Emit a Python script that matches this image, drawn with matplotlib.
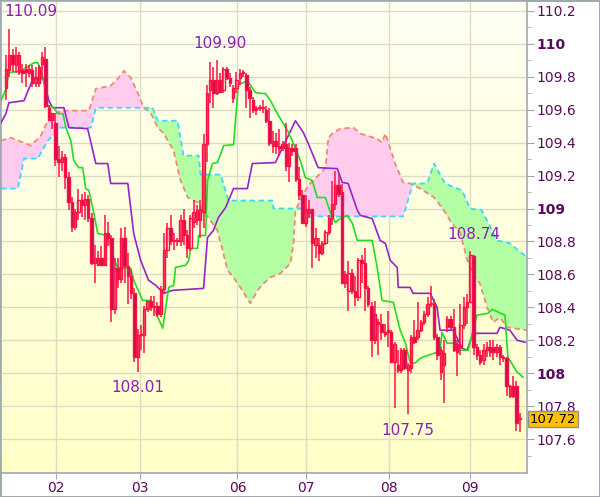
import numpy as np
import matplotlib
matplotlib.use("Agg")
import matplotlib.pyplot as plt
from matplotlib.transforms import blended_transform_factory

# ---------------- data (hourly candles, bar index = hour) ----------------
opens = [109.73,109.84,109.93,109.87,109.83,109.84,109.85,109.82,109.84,109.76,
         109.76,109.88,109.91,109.61,109.54,109.52,109.30,109.28,109.31,109.19,
         109.04,108.89,108.98,109.05,109.02,109.06,108.94,108.67,108.66,108.70,
         108.66,108.85,108.82,108.39,108.64,108.57,108.82,108.65,108.59,108.49,
         108.10,108.23,108.23,108.39,108.44,108.40,108.41,108.36,108.51,108.75,
         108.88,108.80,108.80,108.80,108.93,108.84,108.76,108.92,108.93,108.93,
         108.98,109.39,109.72,109.78,109.70,109.78,109.72,109.85,109.79,109.67,
         109.73,109.79,109.82,109.81,109.72,109.66,109.60,109.61,109.61,109.60,
         109.53,109.38,109.41,109.38,109.37,109.39,109.26,109.37,109.37,109.18,
         109.08,108.91,108.97,109.00,108.78,108.78,108.73,108.79,108.86,108.94,
         109.03,109.14,109.10,108.55,108.50,108.61,108.50,108.46,108.69,108.67,
         108.52,108.41,108.20,108.30,108.30,108.25,108.26,108.25,108.07,108.05,
         108.02,108.14,108.02,108.03,108.22,108.22,108.26,108.31,108.36,108.42,
         108.42,108.22,108.01,108.05,108.28,108.33,108.28,108.18,108.16,108.29,
         108.40,108.43,108.71,108.16,108.11,108.08,108.14,108.16,108.16,108.13,
         108.16,108.10,108.09,107.86,107.92,107.92,107.72]
highs = [109.93,110.09,109.97,109.98,109.95,109.88,109.88,109.87,109.87,109.86,
         109.87,109.95,109.98,109.63,109.58,109.58,109.38,109.35,109.33,109.22,
         109.07,109.00,109.12,109.09,109.10,109.08,108.97,108.78,108.74,108.77,
         108.96,108.92,108.84,108.70,108.70,108.88,108.89,108.73,108.63,108.52,
         108.27,108.29,108.41,108.44,108.47,108.47,108.43,108.53,108.85,108.91,
         108.96,108.85,108.82,108.96,109.00,108.87,108.96,109.05,109.02,109.05,
         109.45,109.75,109.89,109.86,109.90,109.82,109.86,109.86,109.82,109.75,
         109.83,109.85,109.84,109.82,109.74,109.68,109.62,109.63,109.66,109.62,
         109.61,109.47,109.46,109.48,109.41,109.52,109.40,109.39,109.39,109.25,
         109.11,109.08,109.05,109.00,108.88,108.82,108.80,108.87,108.96,109.17,
         109.23,109.21,109.15,108.62,108.68,108.63,108.59,108.70,108.72,108.76,
         108.53,108.43,108.44,108.33,108.36,108.30,108.38,108.26,108.19,108.14,
         108.15,108.15,108.06,108.23,108.32,108.43,108.32,108.38,108.46,108.53,
         108.45,108.24,108.16,108.20,108.35,108.35,108.39,108.20,108.42,108.46,
         108.48,108.74,108.72,108.18,108.14,108.18,108.19,108.20,108.20,108.18,
         108.17,108.11,108.10,107.93,107.98,107.95,107.76]
lows = [109.66,109.80,109.83,109.82,109.81,109.76,109.74,109.80,109.74,109.74,
        109.74,109.79,109.61,109.53,109.48,109.26,109.19,109.23,109.12,108.99,
        108.86,108.87,108.93,108.95,108.93,108.92,108.66,108.55,108.65,108.65,
        108.65,108.77,108.31,108.36,108.52,108.55,108.55,108.42,108.45,108.07,
        108.01,108.14,108.12,108.37,108.38,108.35,108.34,108.34,108.49,108.70,
        108.78,108.75,108.77,108.77,108.78,108.70,108.74,108.88,108.90,108.82,
        108.88,109.28,109.64,109.61,109.69,109.70,109.70,109.78,109.74,109.64,
        109.70,109.75,109.80,109.61,109.55,109.58,109.57,109.59,109.58,109.52,
        109.38,109.34,109.33,109.32,109.35,109.23,109.16,109.32,109.16,109.05,
        108.91,108.89,108.94,108.64,108.70,108.68,108.72,108.78,108.84,108.90,
        108.99,109.07,108.55,108.52,108.38,108.48,108.41,108.44,108.55,108.38,
        108.40,108.10,108.18,108.11,108.20,108.22,108.16,108.07,107.79,108.00,
        108.00,108.02,107.75,108.00,108.18,108.20,108.25,108.29,108.34,108.40,
        108.20,108.08,107.96,107.82,108.25,108.26,108.13,107.98,108.11,108.27,
        108.30,108.43,108.11,108.08,108.05,108.05,108.10,108.10,108.08,108.10,
        108.05,108.07,107.86,107.85,107.85,107.65,107.64]
closes = [109.85,109.93,109.88,109.93,109.93,109.82,109.83,109.85,109.76,109.80,
          109.86,109.92,109.62,109.54,109.58,109.30,109.28,109.31,109.19,109.04,
          108.89,108.98,109.05,109.02,109.06,108.94,108.67,108.70,108.70,108.66,
          108.85,108.82,108.39,108.64,108.57,108.82,108.65,108.59,108.49,108.10,
          108.23,108.24,108.39,108.44,108.40,108.41,108.36,108.51,108.75,108.88,
          108.80,108.80,108.81,108.93,108.84,108.76,108.94,108.98,108.99,109.00,
          109.39,109.70,109.78,109.70,109.78,109.71,109.85,109.79,109.76,109.73,
          109.78,109.82,109.82,109.72,109.67,109.60,109.61,109.61,109.61,109.53,
          109.40,109.41,109.38,109.37,109.39,109.26,109.37,109.35,109.18,109.08,
          108.91,109.00,109.00,108.79,108.82,108.73,108.79,108.86,108.94,109.03,
          109.14,109.09,108.55,108.60,108.61,108.50,108.46,108.69,108.67,108.52,
          108.42,108.20,108.36,108.31,108.25,108.24,108.25,108.07,108.18,108.02,
          108.14,108.03,108.05,108.22,108.19,108.26,108.31,108.36,108.42,108.42,
          108.22,108.11,108.14,108.12,108.33,108.28,108.14,108.13,108.29,108.40,
          108.43,108.72,108.16,108.11,108.07,108.14,108.16,108.13,108.13,108.16,
          108.10,108.09,107.92,107.92,107.86,107.70,107.72]

# Tenkan-sen (green) vertices: bar index / price
tenkan_x = [-1.5,0,0.9,4.5,8.5,9.7,10.6,11.5,12.7,14.5,15.8,17.3,18.2,19.7,20.6,22.1,23.3,
            24.2,25.2,26.7,27.9,30.9,31.8,32.7,33.9,37.9,38.8,41.5,43.9,44.8,47.6,49.4,
            50.9,51.5,54.5,55.5,56.1,58.2,58.5,60.6,61.2,62.7,64.2,66.1,69.1,70.6,72.1,
            73.3,75.8,78.8,80.3,82.4,85.5,87.3,89.4,90.9,93,94.5,97,98.5,100,101.5,103.6,
            105.2,106.7,111.2,112.7,114.2,117.6,119.7,121.2,122.7,124.2,125.8,128.2,130,
            131.8,132.4,133.9,137,137.9,140.3,143,146.4,147.6,151.5,152.4,155.2,157]
tenkan_y = [109.655,109.727,109.824,109.836,109.885,109.885,109.836,109.776,109.624,109.612,
            109.576,109.576,109.491,109.412,109.291,109.248,109.248,109.121,109.109,108.97,
            108.848,108.836,108.764,108.697,108.642,108.636,108.564,108.442,108.442,108.40,
            108.273,108.521,108.533,108.642,108.655,108.685,108.758,108.758,108.836,108.836,
            109.17,109.273,109.279,109.382,109.388,109.758,109.764,109.776,109.703,109.697,
            109.655,109.576,109.473,109.394,109.291,109.188,109.17,109.067,109.067,108.976,
            108.915,108.939,108.958,108.909,108.806,108.806,108.642,108.442,108.43,108.261,
            108.188,108.067,108.061,108.091,108.109,108.121,108.139,108.248,108.182,108.182,
            108.139,108.139,108.352,108.364,108.388,108.352,108.097,108.006,107.976]

# Kijun-sen (purple) vertices
kijun_x = [-1.5,0,0.9,5.5,6.7,7.6,8.5,11.2,12.1,13,14.2,17.6,19.1,24.8,27.3,30.9,31.8,37,
           38.8,40.9,43.3,45.5,47.9,50.6,60,61.2,63,64.5,66.7,69.1,73.3,74.8,81.8,87.9,90.3,
           91.8,93.3,94.8,100.6,102.1,103.9,106.7,107.6,111.2,113.6,115.2,116.7,118.8,119.1,
           122.7,123.6,128.8,130.9,131.8,135.8,138.5,140,141.8,149.1,150,153,155.2,157.6]
kijun_y = [109.521,109.576,109.642,109.655,109.715,109.758,109.788,109.788,109.733,109.655,
           109.612,109.612,109.491,109.485,109.273,109.273,109.152,109.152,108.848,108.685,
           108.564,108.533,108.485,108.503,108.515,108.824,108.867,108.945,109.006,109.121,
           109.121,109.273,109.279,109.533,109.461,109.394,109.321,109.248,109.242,109.158,
           109.152,108.988,108.958,108.939,108.806,108.788,108.685,108.642,108.521,108.521,
           108.485,108.485,108.40,108.261,108.261,108.152,108.139,108.242,108.242,108.279,
           108.261,108.20,108.188]

# Senkou span A (salmon dashed)
spanA_x = [-1.5,1.5,7.6,10.6,12.7,15.2,16.7,25.2,27.3,31.8,34.2,35.8,37.9,40,41.8,43.9,46.1,
           47.9,50.9,53,55.2,58.2,59.7,62.1,64.2,65.8,67.3,69.1,71.2,74.2,76.4,78.2,80.3,83.3,
           86.4,87.3,87.9,90.3,92.4,94.8,97,97.9,99.1,101.5,105.5,107.6,109.7,112.7,114.2,
           115.2,116.1,118.2,120.6,122.7,125.8,130,133,135.2,137.9,140,141.8,143.9,146.1,
           147.9,150,152.1,158.2]
spanA_y = [109.412,109.43,109.382,109.442,109.533,109.576,109.594,109.594,109.727,109.745,
           109.794,109.836,109.794,109.703,109.612,109.582,109.491,109.455,109.352,109.17,
           109.067,109.036,108.988,108.927,108.867,108.745,108.624,108.582,108.521,108.424,
           108.503,108.545,108.582,108.606,108.667,108.788,108.988,109.091,109.152,109.20,
           109.248,109.43,109.455,109.485,109.491,109.455,109.442,109.424,109.40,109.455,
           109.40,109.273,109.158,109.152,109.121,109.067,108.988,108.915,108.855,108.69,
           108.60,108.545,108.40,108.309,108.339,108.279,108.261]

# Senkou span B (cyan dashed)
spanB_x = [-1.5,3.6,5.5,9.7,12.7,16.7,25.8,27.3,44.5,46.1,52.1,53.9,58.5,59.1,65.2,67.6,
           80.9,81.2,90.9,91.5,120.6,123.6,127.9,130,133.3,138.5,140.9,144.5,149.1,153,158.2]
spanB_y = [109.121,109.121,109.303,109.303,109.412,109.491,109.491,109.612,109.612,109.533,
           109.533,109.321,109.321,109.206,109.206,109.048,109.048,109.0,109.0,108.952,
           108.952,109.152,109.152,109.273,109.152,109.109,109.0,108.988,108.806,108.788,108.703]

day_pos = [15.2, 40.6, 70.3, 91.2, 116.4, 140.9]
day_labels = ["02", "03", "06", "07", "08", "09"]
y_major = [107.6, 107.8, 108.0, 108.2, 108.4, 108.6, 108.8, 109.0, 109.2, 109.4,
           109.6, 109.8, 110.0, 110.2]
y_labels = ["107.6", "107.8", "108", "108.2", "108.4", "108.6", "108.8", "109",
            "109.2", "109.4", "109.6", "109.8", "110", "110.2"]
last_price = 107.72
# extreme labels: (bar, value, text, above?)
extremes = [(1, 110.09, "110.09", True), (65, 109.90, "109.90", True),
            (40, 108.01, "108.01", False), (122, 107.75, "107.75", False),
            (142, 108.74, "108.74", True)]

# ---------------- figure ----------------
W, H = 600, 497
fig = plt.figure(figsize=(W / 100, H / 100), dpi=100, facecolor="white",
                 edgecolor="#a0a8b0", linewidth=2)
ax = fig.add_axes([1 / W, 24 / H, 526 / W, 472 / H])
ax.set_xlim(-1.5, 158.2)
ax.set_ylim(107.394, 110.26)

# background gradient
grad = np.linspace(0, 1, 256).reshape(-1, 1)
top = np.array([1.0, 1.0, 0.955])
bot = np.array([1.0, 1.0, 0.78])
img = top[None, None, :] * (1 - grad[:, :, None]) + bot[None, None, :] * grad[:, :, None]
ax.imshow(img, extent=[0, 1, 0, 1], transform=ax.transAxes, aspect="auto", zorder=0)

grid_c = "#dcdcc4"
for v in y_major:
    ax.axhline(v, color=grid_c, lw=1.0, zorder=1)
for d in day_pos:
    ax.axvline(d, color=grid_c, lw=1.0, zorder=1)

# cloud
gx = np.linspace(-1.5, 158.2, 3000)
ga = np.interp(gx, spanA_x, spanA_y)
gb = np.interp(gx, spanB_x, spanB_y)
ax.fill_between(gx, ga, gb, where=ga >= gb, interpolate=True, color="#ffccee", lw=0, zorder=2)
ax.fill_between(gx, ga, gb, where=ga < gb, interpolate=True, color="#b4ffa4", lw=0, zorder=2)
ax.plot(spanA_x, spanA_y, color="#f08878", lw=1.3, dashes=(3, 2), zorder=3)
ax.plot(spanB_x, spanB_y, color="#38d8ff", lw=1.3, dashes=(3, 2), zorder=3)

# lines
ax.plot(kijun_x, kijun_y, color="#9922cc", lw=1.2, zorder=4)
ax.plot(tenkan_x, tenkan_y, color="#22dd22", lw=1.2, zorder=4)

# candles
o = np.array(opens); h = np.array(highs); l = np.array(lows); c = np.array(closes)
idx = np.arange(len(o))
red = "#ff1144"
ax.vlines(idx, l, h, color=red, lw=1.1, zorder=5)
bull = c >= o
body_bot = np.minimum(o, c)
body_h = np.maximum(np.abs(c - o), 0.006)
ax.bar(idx[bull], body_h[bull], bottom=body_bot[bull], width=0.72,
       facecolor="none", edgecolor=red, lw=1.0, zorder=6)
ax.bar(idx[~bull], body_h[~bull], bottom=body_bot[~bull], width=0.72,
       facecolor="#c0105a", edgecolor=red, lw=1.0, zorder=6)

# extreme labels
for i, (b, v, t, above) in enumerate(extremes):
    off = 17 if above else -16
    if i == 0:
        ax.annotate(t, (-1.5, v), xytext=(3, off), textcoords="offset pixels",
                    ha="left", va="center", fontsize=11, color="#8a1fb8", zorder=8)
    else:
        ax.annotate(t, (b, v), xytext=(0, off), textcoords="offset pixels",
                    ha="center", va="center", fontsize=11, color="#8a1fb8", zorder=8)

# axes styling
for s in ax.spines.values():
    s.set_color("#a0a8b0")
    s.set_linewidth(1.2)
ax.yaxis.tick_right()
ax.set_yticks(y_major)
ax.set_yticklabels(y_labels)
for lab, txt in zip(ax.get_yticklabels(), y_labels):
    if "." not in txt:
        lab.set_fontweight("bold")
        lab.set_fontsize(11)
ax.set_yticks(np.arange(107.5, 110.25, 0.1), minor=True)
ax.tick_params(axis="y", which="major", length=5, color="#a0a8b0", labelsize=10,
               labelcolor="#5a0a5a", pad=2)
ax.tick_params(axis="y", which="minor", length=3, color="#a0a8b0")
ax.set_xticks(day_pos)
ax.set_xticklabels(day_labels)
ax.tick_params(axis="x", length=4, color="#a0a8b0", labelsize=10,
               labelcolor="#5a0a5a", pad=2)

# last price box
tr = blended_transform_factory(ax.transAxes, ax.transData)
ax.text(1.005, last_price, f"{last_price:.2f}", transform=tr, ha="left", va="center",
        fontsize=9.5, color="black", zorder=9, clip_on=False,
        bbox=dict(boxstyle="square,pad=0.12", facecolor="#ffc000", edgecolor="#8a9098", lw=1))

fig.savefig("out.png", dpi=100)
